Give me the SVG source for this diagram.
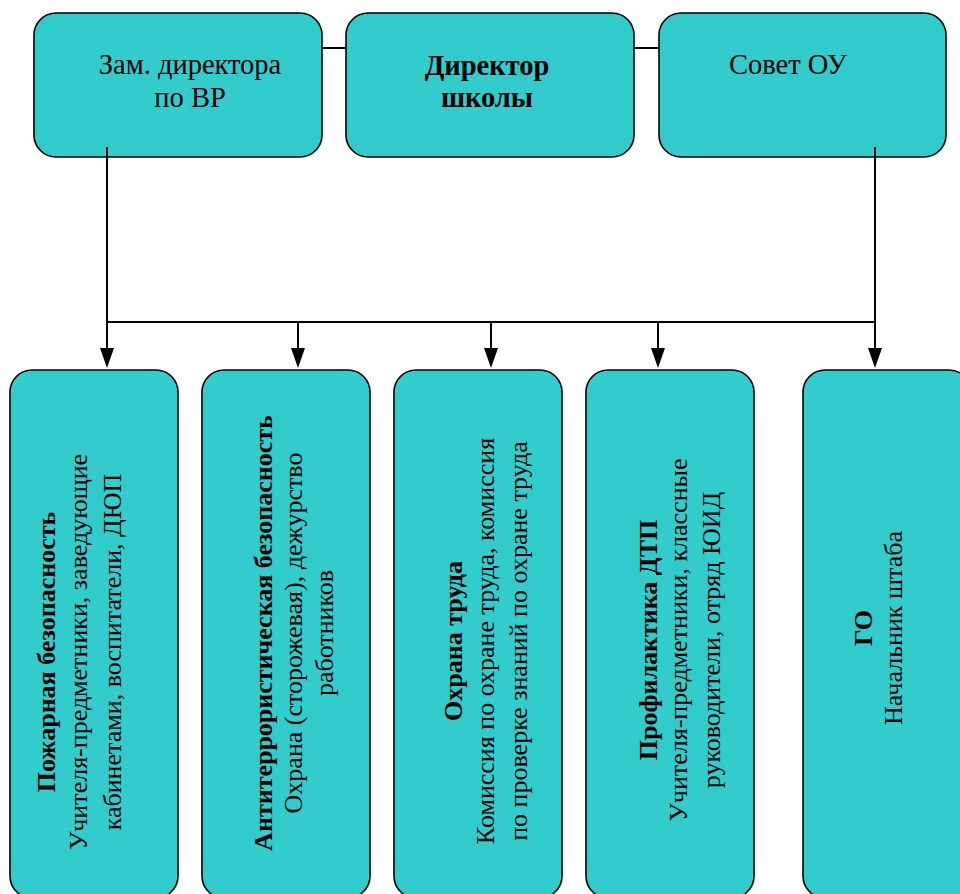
<svg xmlns="http://www.w3.org/2000/svg" width="960" height="894" viewBox="0 0 960 894">
<style>
.box{fill:#33CCCC;stroke:#000;stroke-width:1.6}
.t{font-family:"Liberation Serif","Times New Roman",serif;font-size:26px;fill:#000;text-anchor:middle}
.h{font-size:28.5px}
.b{font-weight:bold}
.ln{stroke:#000;stroke-width:2;fill:none}
</style>
<rect width="960" height="894" fill="#fff"/>
<g id="zam">
<rect class="box" x="34" y="13" width="288" height="144" rx="22"/>
<text class="t h" x="190" y="74">Зам. директора</text>
<text class="t h" x="190" y="107">по ВР</text>
</g>
<g id="director">
<rect class="box" x="346" y="13" width="288" height="144" rx="22"/>
<text class="t h b" x="487" y="75">Директор</text>
<text class="t h b" x="487" y="107">школы</text>
</g>
<g id="sovet">
<rect class="box" x="659" y="13" width="287" height="144" rx="22"/>
<text class="t h" x="788" y="74">Совет ОУ</text>
</g>
<g id="fire">
<rect class="box" x="10" y="370" width="168" height="528" rx="22"/>
<g transform="translate(0,652) rotate(-90)">
<text class="t b" x="0" y="55">Пожарная безопасность</text>
<text class="t" x="0" y="87">Учителя-предметники, заведующие</text>
<text class="t" x="0" y="121">кабинетами, воспитатели, ДЮП</text>
</g>
</g>
<g id="antiterror">
<rect class="box" x="202" y="370" width="168" height="528" rx="22"/>
<g transform="translate(0,633) rotate(-90)">
<text class="t b" x="0" y="272">Антитеррористическая безопасность</text>
<text class="t" x="0" y="302">Охрана (сторожевая), дежурство</text>
<text class="t" x="0" y="333">работников</text>
</g>
</g>
<g id="labor">
<rect class="box" x="394" y="370" width="168" height="528" rx="22"/>
<g transform="translate(0,641) rotate(-90)">
<text class="t b" x="0" y="462">Охрана труда</text>
<text class="t" x="0" y="494">Комиссия по охране труда, комиссия</text>
<text class="t" x="0" y="527">по проверке знаний по охране труда</text>
</g>
</g>
<g id="dtp">
<rect class="box" x="586" y="370" width="168" height="528" rx="22"/>
<g transform="translate(0,640) rotate(-90)">
<text class="t b" x="0" y="657">Профилактика ДТП</text>
<text class="t" x="0" y="687">Учителя-предметники, классные</text>
<text class="t" x="0" y="720">руководители, отряд ЮИД</text>
</g>
</g>
<g id="go">
<rect class="box" x="803" y="370" width="168" height="528" rx="22"/>
<g transform="translate(0,628) rotate(-90)">
<text class="t b" x="0" y="872">ГО</text>
<text class="t" x="0" y="902">Начальник штаба</text>
</g>
</g>
<g id="connectors">
<line class="ln" x1="322" y1="48" x2="346" y2="48"/>
<line class="ln" x1="634" y1="48" x2="659" y2="48"/>
<line class="ln" x1="107" y1="322" x2="875" y2="322"/>
<path class="ln" d="M107,147 V350"/>
<path class="ln" d="M875,147 V350"/>
<path class="ln" d="M298,322 V350"/>
<path class="ln" d="M491,322 V350"/>
<path class="ln" d="M658,322 V350"/>
<path d="M100,348 L114,348 L107,368 Z"/>
<path d="M291,348 L305,348 L298,368 Z"/>
<path d="M484,348 L498,348 L491,368 Z"/>
<path d="M651,348 L665,348 L658,368 Z"/>
<path d="M868,348 L882,348 L875,368 Z"/>
</g>
</svg>
